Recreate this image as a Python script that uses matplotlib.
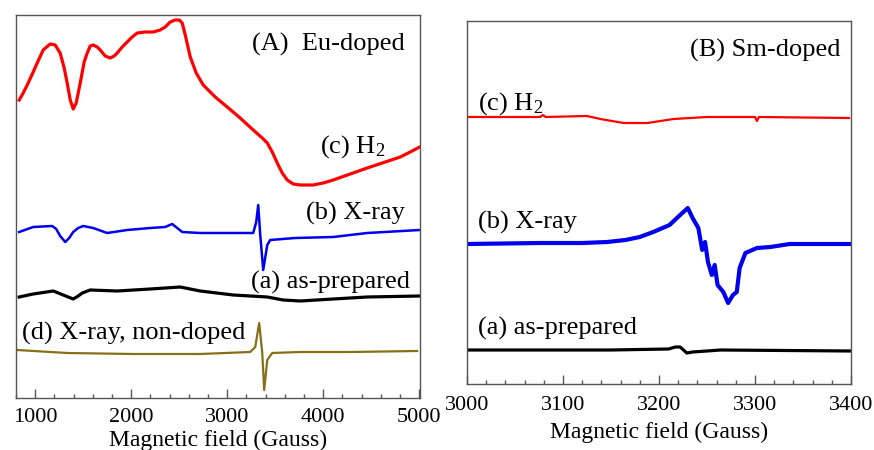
import matplotlib
matplotlib.use("Agg")
import matplotlib.pyplot as plt
from matplotlib.ticker import MultipleLocator

plt.rcParams['font.family'] = ['Liberation Serif', 'DejaVu Serif']
plt.rcParams['mathtext.fontset'] = 'custom'
plt.rcParams['mathtext.rm'] = 'Liberation Serif'
plt.rcParams['mathtext.default'] = 'regular'

# ---------------- Panel A: Eu-doped (field in Gauss, signal in arbitrary offset units)
eu_h2_field = [833, 875, 917, 979, 1021, 1083, 1156, 1208, 1260, 1302, 1333, 1365, 1396, 1427,
               1469, 1510, 1542, 1573, 1604, 1646, 1677, 1729, 1781, 1823, 1854, 1906, 1958,
               2010, 2063, 2146, 2229, 2302, 2354, 2406, 2458, 2500, 2531, 2563, 2615, 2677,
               2750, 2875, 3000, 3135, 3271, 3365, 3417, 3469, 3521, 3573, 3625, 3688, 3760,
               3896, 4000, 4104, 4281, 4458, 4646, 4802, 4906, 5005]
eu_h2_signal = [299, 306, 314, 327, 336, 349, 355, 354, 346, 331, 316, 299, 290, 296,
                316, 337, 346, 353, 354, 352, 349, 343, 341, 343, 346, 352, 357,
                362, 366, 367, 367, 369, 372, 377, 379, 379, 376, 364, 342, 326,
                314, 302, 292, 281, 269, 261, 256, 247, 236, 226, 219, 215, 214,
                214, 216, 219, 225, 231, 237, 242, 247, 252]

eu_xray_field = [833, 979, 1177, 1219, 1260, 1313, 1354, 1396, 1448, 1500, 1552, 1604, 1750,
                 1958, 2198, 2354, 2427, 2479, 2531, 2719, 3063, 3271, 3302, 3323, 3344,
                 3375, 3417, 3448, 3708, 4104, 4458, 5005]
eu_xray_signal = [167, 172, 173, 170, 163, 157, 161, 167, 171, 173, 172, 171, 166,
                  169, 171, 172, 175, 171, 167, 166, 166, 166, 177, 194, 164,
                  129, 154, 159, 161, 162, 166, 169]

eu_asprep_field = [833, 979, 1188, 1292, 1344, 1396, 1448, 1490, 1573, 1854, 2198, 2510,
                   2719, 3063, 3417, 3583, 3760, 4104, 4458, 5005]
eu_asprep_signal = [102, 105, 108, 104, 102, 100, 103, 106, 109, 108, 110, 112,
                    108, 104, 102, 99, 98, 100, 102, 103]

undoped_field = [812, 1333, 2021, 2719, 3240, 3292, 3333, 3365, 3385, 3417, 3469, 3760, 4281, 4979]
undoped_signal = [49, 46, 45, 45, 47, 52, 76, 46, 9, 39, 46, 47, 47, 48]

# ---------------- Panel B: Sm-doped
sm_h2_field = [3000, 3076, 3079, 3082, 3125, 3139, 3163, 3188, 3215, 3250, 3300, 3302, 3304, 3398]
sm_h2_signal = [267, 267, 269, 267, 268, 265, 261, 261, 265, 267, 267, 263, 267, 266]

sm_xray_field = [3000, 3076, 3120, 3146, 3165, 3180, 3194, 3211, 3222, 3230, 3235, 3241, 3245,
                 3248, 3251, 3255, 3258, 3261, 3267, 3272, 3277, 3281, 3284, 3290, 3302,
                 3316, 3336, 3400]
sm_xray_signal = [140, 141, 141, 142, 144, 147, 152, 159, 169, 176, 166, 156, 134,
                  142, 122, 109, 119, 99, 92, 81, 89, 92, 116, 131, 136,
                  137, 140, 140]

sm_asprep_field = [3000, 3150, 3210, 3217, 3222, 3229, 3235, 3250, 3264, 3400]
sm_asprep_signal = [34, 34, 35, 37, 37, 31, 32, 33, 34, 33]

left_ticks = [1000, 2000, 3000, 4000, 5000]
right_ticks = [3000, 3100, 3200, 3300, 3400]
xlabel = "Magnetic field (Gauss)"

fig = plt.figure(figsize=(8.74, 4.5), dpi=100)
axA = fig.add_axes([16/874, 1 - 398/450, (420-16)/874, (398-15)/450])
axB = fig.add_axes([467/874, 1 - 384/450, (851-467)/874, (384-21)/450])

spine_col = '#555555'

# Panel A
axA.plot(eu_h2_field, eu_h2_signal, color='#ff0000', lw=2.3, solid_joinstyle='round')
axA.plot(eu_xray_field, eu_xray_signal, color='#0000ee', lw=1.8, solid_joinstyle='round')
axA.plot(eu_asprep_field, eu_asprep_signal, color='black', lw=2.3)
axA.plot(undoped_field, undoped_signal, color='#857018', lw=1.6)
axA.set_xlim(800, 5008)
axA.set_ylim(1, 384)
axA.set_xticks(left_ticks, [str(t) for t in left_ticks], fontsize=16)
axA.xaxis.set_minor_locator(MultipleLocator(200))

# Panel B
axB.plot(sm_h2_field, sm_h2_signal, color='#ff0000', lw=1.6)
axB.plot(sm_xray_field, sm_xray_signal, color='#0000ee', lw=3.0, solid_joinstyle='round')
axB.plot(sm_asprep_field, sm_asprep_signal, color='black', lw=2.3)
axB.set_xlim(3000, 3400)
axB.set_ylim(0, 363)
axB.set_xticks(right_ticks, [str(t) for t in right_ticks], fontsize=16)
axB.xaxis.set_minor_locator(MultipleLocator(20))

for ax, pad, lpad in ((axA, 7.5, 1.5), (axB, 8.5, 5)):
    for s in ax.spines.values():
        s.set_color(spine_col)
        s.set_linewidth(1.0)
    ax.set_yticks([])
    ax.tick_params(axis='x', which='both', direction='in', top=False, colors=spine_col,
                   labelcolor='black', pad=pad)
    ax.tick_params(axis='x', which='major', length=6.5, width=1.0, labelsize=16)
    ax.tick_params(axis='x', which='minor', length=3, width=1.0)
    ax.set_xlabel(xlabel, fontsize=17, labelpad=lpad)

txt = dict(fontsize=19, va='center')
axA.text(4854, 355, "(A)  Eu-doped", ha='right', **txt)
axA.text(4646, 252, "(c) H$_2$", ha='right', **txt)
axA.text(4854, 186, "(b) X-ray", ha='right', **txt)
axA.text(4906, 117, "(a) as-prepared", ha='right', **txt)
axA.text(865, 66, "(d) X-ray, non-doped", ha='left', **txt)

axB.text(3389, 334, "(B) Sm-doped", ha='right', **txt)
axB.text(3011, 280, "(c) H$_2$", ha='left', **txt)
axB.text(3011, 162, "(b) X-ray", ha='left', **txt)
axB.text(3011, 56, "(a) as-prepared", ha='left', **txt)

fig.savefig("out.png", dpi=100)
